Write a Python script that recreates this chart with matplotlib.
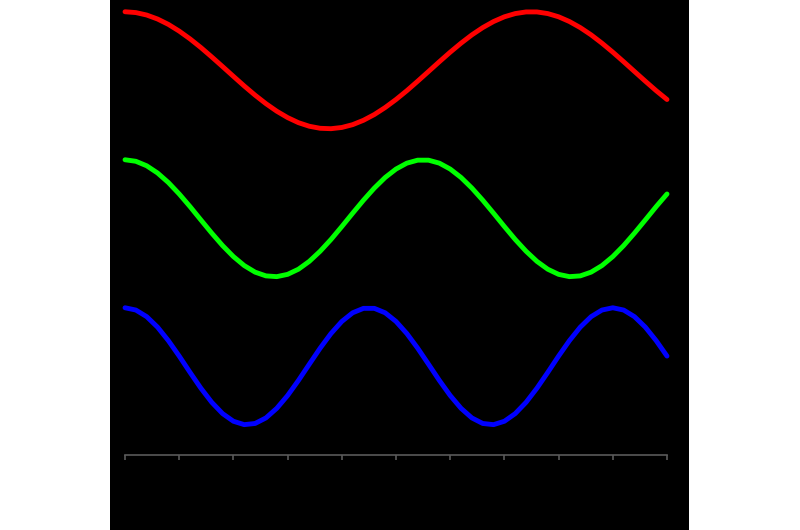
import numpy as np
import matplotlib
matplotlib.use("Agg")
import matplotlib.pyplot as plt

# sample positions along the x axis (0..10, step 0.2)
x = np.linspace(0, 10, 51)

# values
red = [6.060, 6.046, 6.004, 5.936, 5.844, 5.729, 5.596, 5.448, 5.288, 5.123,
       4.956, 4.791, 4.634, 4.489, 4.360, 4.251, 4.164, 4.103, 4.068, 4.061,
       4.082, 4.130, 4.205, 4.303, 4.423, 4.560, 4.711, 4.873, 5.039, 5.206,
       5.369, 5.523, 5.665, 5.789, 5.893, 5.974, 6.029, 6.057, 6.057, 6.029,
       5.974, 5.893, 5.789, 5.665, 5.523, 5.369, 5.206, 5.039, 4.873, 4.711,
       4.560]

green = [3.530, 3.504, 3.427, 3.304, 3.141, 2.945, 2.729, 2.501, 2.276, 2.063,
         1.875, 1.721, 1.609, 1.545, 1.532, 1.571, 1.659, 1.793, 1.966, 2.167,
         2.388, 2.616, 2.839, 3.046, 3.227, 3.371, 3.472, 3.523, 3.523, 3.472,
         3.371, 3.227, 3.046, 2.839, 2.616, 2.388, 2.167, 1.966, 1.793, 1.659,
         1.571, 1.532, 1.545, 1.609, 1.721, 1.875, 2.063, 2.276, 2.501, 2.729,
         2.945]

blue = [1.000, 0.961, 0.848, 0.669, 0.438, 0.174, -0.105, -0.375, -0.616, -0.809,
        -0.940, -0.998, -0.978, -0.883, -0.719, -0.500, -0.242, 0.035, 0.309, 0.559,
        0.766, 0.914, 0.990, 0.990, 0.914, 0.766, 0.559, 0.309, 0.035, -0.242,
        -0.500, -0.719, -0.883, -0.978, -0.998, -0.940, -0.809, -0.616, -0.375, -0.105,
        0.174, 0.438, 0.669, 0.848, 0.961, 1.000, 0.961, 0.848, 0.669, 0.438,
        0.174]

series = [(red, "#ff0000"), (green, "#00ff00"), (blue, "#0000ff")]
xticks = list(range(0, 11))

fig = plt.figure(figsize=(8, 5.3), dpi=100, facecolor="white")
ax = fig.add_axes([110 / 800, 0.0, 579 / 800, 1.0])
ax.set_facecolor("black")

for ys, col in series:
    ax.plot(x, ys, color=col, lw=3.5, solid_capstyle="round", solid_joinstyle="round")

ax.set_xlim(-0.277, 10.406)
ax.set_ylim(-2.799, 6.261)

for s in ["top", "left", "right"]:
    ax.spines[s].set_visible(False)
ax.spines["bottom"].set_position(("data", -1.517))
ax.spines["bottom"].set_bounds(0, 10)
ax.spines["bottom"].set_color("#5a5a5a")
ax.spines["bottom"].set_linewidth(1.2)

ax.set_xticks(xticks)
ax.set_xticklabels([""] * len(xticks))
ax.tick_params(axis="x", direction="out", length=3.8, width=1.2, color="#5a5a5a")
ax.set_yticks([])

fig.savefig("out.png", dpi=100, facecolor="white")
